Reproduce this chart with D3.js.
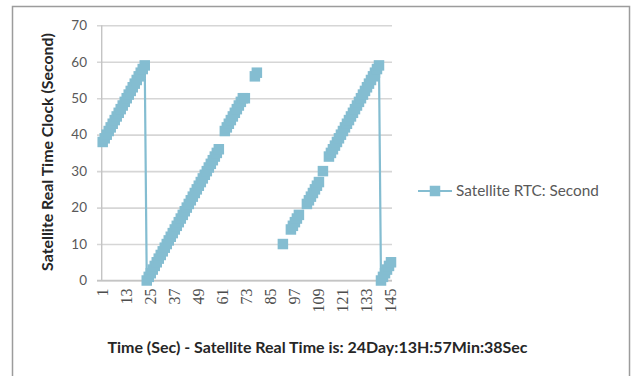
<!DOCTYPE html>
<html>
<head>
<meta charset="utf-8">
<script src="https://cdn.jsdelivr.net/npm/d3@7"></script>
<style>
  html, body { margin: 0; padding: 0; background: #fff; }
  svg { display: block; }
</style>
</head>
<body>
<script>
// Satellite RTC seconds sampled once per second; null = no sample received
const seriesName = "Satellite RTC: Second";
const rtcSeconds = [
  38, 39, 40, 41, 42, 43, 44, 45, 46, 47, 48, 49, 50, 51, 52, 53, 54, 55, 56, 57, 58, 59,
  0, 1, 2, 3, 4, 5, 6, 7, 8, 9, 10, 11, 12, 13, 14, 15, 16, 17, 18, 19, 20, 21, 22, 23, 24, 25,
  26, 27, 28, 29, 30, 31, 32, 33, 34, 35, 36,
  null, null,
  41, 42, 43, 44, 45, 46, 47, 48, 49, 50, 50,
  null, null, null, null,
  56, 57,
  null, null, null, null, null, null, null, null, null, null, null, null,
  10,
  null, null, null,
  14, 15, 16, 17, 18,
  null, null, null,
  21, 22, 23, 24, 25, 26, 27,
  null,
  30,
  null, null,
  34, 35, 36, 37, 38, 39, 40, 41, 42, 43, 44, 45, 46, 47, 48, 49, 50, 51, 52, 53, 54, 55, 56,
  57, 58, 59,
  0, 1, 2, 3, 4, 5
];
const categories = d3.range(1, rtcSeconds.length + 1);
const xTickLabels = [1, 13, 25, 37, 49, 61, 73, 85, 97, 109, 121, 133, 145];
const yTickValues = [0, 10, 20, 30, 40, 50, 60, 70];

const xTitle = "Time (Sec) - Satellite Real Time is: 24Day:13H:57Min:38Sec";
const yTitle = "Satellite Real Time Clock (Second)";

const W = 634, H = 376;
const plot = { left: 101.7, right: 392, top: 25.3, bottom: 280.5 };
const seriesColor = "#84bdd1";
const gridColor = "#d6d6d6";
const fontFamily = "Lato, 'Open Sans', sans-serif";
const serifFamily = "'Liberation Serif', 'DejaVu Serif', serif";
const markerSize = 10.5;

const svg = d3.select("body").append("svg")
  .attr("width", W).attr("height", H)
  .style("font-family", fontFamily);

// scale a text's font size so it spans the given width
function fitWidth(sel, width) {
  const base = parseFloat(sel.style("font-size"));
  const w = sel.node().getComputedTextLength();
  sel.style("font-size", (base * width / w).toFixed(2) + "px");
}

// chart frame
svg.append("rect")
  .attr("x", 12.5).attr("y", 6.5)
  .attr("width", 617).attr("height", 420)
  .attr("fill", "#fff")
  .attr("stroke", "#9c9c9c").attr("stroke-width", 1.5);

const x = d3.scaleBand().domain(categories).range([plot.left, plot.right]);
const y = d3.scaleLinear().domain([0, 70]).range([plot.bottom, plot.top]);
const cx = d => x(d) + x.bandwidth() / 2;

// value axis with gridlines
const yAxis = svg.append("g")
  .attr("transform", `translate(${plot.left - 4.7},0)`)
  .call(d3.axisLeft(y).tickValues(yTickValues)
    .tickSize(-(plot.right - plot.left + 4.7)).tickPadding(10));
yAxis.select(".domain").remove();
yAxis.selectAll(".tick line").attr("stroke", gridColor).attr("stroke-width", 1.6);
yAxis.selectAll(".tick text")
  .attr("fill", "#595959").style("font-size", "13.5px").style("font-family", fontFamily);

// axis lines
svg.append("line")
  .attr("x1", plot.left).attr("x2", plot.left)
  .attr("y1", plot.top).attr("y2", plot.bottom)
  .attr("stroke", "#c4c4c4").attr("stroke-width", 1.4);
svg.append("line")
  .attr("x1", plot.left - 4.7).attr("x2", plot.right)
  .attr("y1", plot.bottom).attr("y2", plot.bottom)
  .attr("stroke", "#c4c4c4").attr("stroke-width", 1.6);

// category axis, labels rotated
const xAxis = svg.append("g")
  .attr("transform", `translate(0,${plot.bottom})`)
  .call(d3.axisBottom(x).tickValues(xTickLabels).tickSize(0));
xAxis.select(".domain").remove();
xAxis.selectAll(".tick text")
  .attr("transform", "rotate(-90)")
  .attr("text-anchor", "end")
  .attr("x", -8).attr("y", 0).attr("dy", "0.33em")
  .attr("fill", "#4d4d4d").style("font-size", "16px").style("font-family", serifFamily);

// series line (breaks where samples are missing) and square markers
const points = categories.map((c, i) => ({ c, v: rtcSeconds[i] }));
const line = d3.line()
  .defined(d => d.v != null)
  .x(d => cx(d.c))
  .y(d => y(d.v));
svg.append("path")
  .datum(points)
  .attr("d", line)
  .attr("fill", "none")
  .attr("stroke", seriesColor)
  .attr("stroke-width", 2.2);
svg.append("g").selectAll("rect")
  .data(points.filter(d => d.v != null))
  .join("rect")
  .attr("x", d => cx(d.c) - markerSize / 2)
  .attr("y", d => y(d.v) - markerSize / 2)
  .attr("width", markerSize).attr("height", markerSize)
  .attr("fill", seriesColor);

// axis titles
const yT = svg.append("text")
  .attr("transform", "translate(47,152) rotate(-90)")
  .attr("text-anchor", "middle").attr("dy", "0.35em")
  .attr("fill", "#262626").style("font-size", "13px").style("font-weight", "bold")
  .text(yTitle);
fitWidth(yT, 238);
const xT = svg.append("text")
  .attr("x", 317.5).attr("y", 347)
  .attr("text-anchor", "middle").attr("dy", "0.35em")
  .attr("fill", "#262626").style("font-size", "13px").style("font-weight", "bold")
  .text(xTitle);
fitWidth(xT, 420);

// legend
const legend = svg.append("g").attr("transform", "translate(418,191)");
legend.append("line")
  .attr("x1", 0).attr("x2", 34).attr("y1", 0).attr("y2", 0)
  .attr("stroke", seriesColor).attr("stroke-width", 2.2);
legend.append("rect")
  .attr("x", 17 - markerSize / 2).attr("y", -markerSize / 2)
  .attr("width", markerSize).attr("height", markerSize)
  .attr("fill", seriesColor);
const legText = legend.append("text")
  .attr("x", 38).attr("y", 0).attr("dy", "0.35em")
  .attr("fill", "#595959").style("font-size", "13px")
  .text(seriesName);
fitWidth(legText, 143);
</script>
</body>
</html>
